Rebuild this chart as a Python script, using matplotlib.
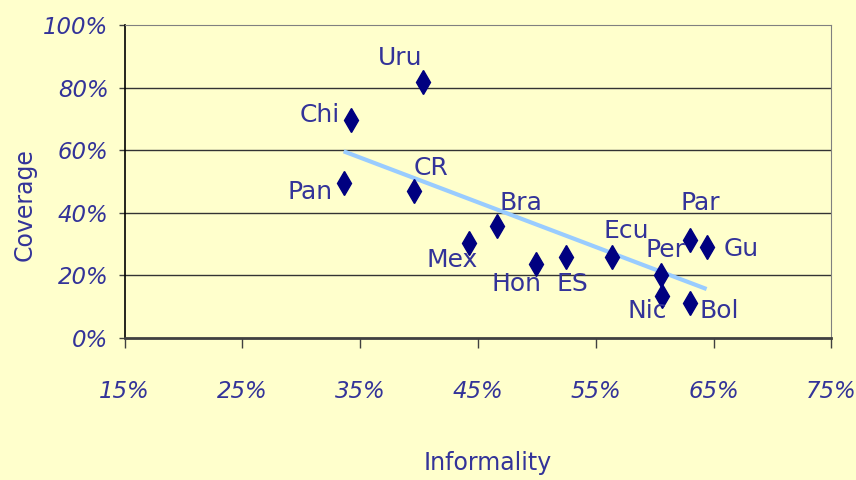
import numpy as np
import matplotlib
matplotlib.use("Agg")
import matplotlib.pyplot as plt

countries = ["Uru", "Chi", "Pan", "CR", "Bra", "Mex", "Hon", "ES", "Ecu", "Per", "Nic", "Par", "Gu", "Bol"]
informality = [40.3, 34.2, 33.6, 39.6, 46.6, 44.2, 49.9, 52.5, 56.4, 60.5, 60.6, 63.0, 64.4, 63.0]
coverage = [81.9, 69.6, 49.4, 47.1, 35.9, 30.3, 23.5, 25.8, 25.8, 20.1, 13.4, 31.3, 29.2, 11.1]
label_offsets = [(-22, 24), (-31, 5), (-34, -9), (17, 23), (24, 23), (-16, -17), (-19, -20),
                 (6, -27), (14, 26), (5, 25), (-15, -15), (10, 37), (35, -2), (29, -8)]
x_ticks = [15, 25, 35, 45, 55, 65, 75]
y_ticks = [0, 20, 40, 60, 80, 100]

BG = "#FFFFCC"
TXT = "#333399"
FONT = "DejaVu Sans Condensed"

fig = plt.figure(figsize=(8.56, 4.80), dpi=100, facecolor=BG)
ax = fig.add_axes([124.5 / 856, 1 - 338 / 480, 707 / 856, 313 / 480], facecolor=BG)

# trend line (OLS fit)
xs = np.array(informality)
ys = np.array(coverage)
m, b = np.polyfit(xs, ys, 1)
tx = np.array([xs.min(), xs.max()])
ax.plot(tx, m * tx + b, color="#99CCFF", lw=3, zorder=3, solid_capstyle="butt")

ax.plot(xs, ys, linestyle="none", marker="d", ms=12, color="#000080", zorder=4)

for name, x, y, (dx, dy) in zip(countries, informality, coverage, label_offsets):
    ax.annotate(name, (x, y), xytext=(dx, dy), textcoords="offset pixels",
                ha="center", va="center", color=TXT, fontsize=18,
                family=FONT, zorder=5)

ax.set_xlim(15, 75)
ax.set_ylim(0, 100)
ax.set_xticks(x_ticks)
ax.set_yticks(y_ticks)
ax.set_xticklabels([f"{v}%" for v in x_ticks], fontsize=16.5, style="italic",
                   color=TXT, family=FONT)
ax.set_yticklabels([f"{v}%" for v in y_ticks], fontsize=16.5, style="italic",
                   color=TXT, family=FONT)
ax.tick_params(axis="x", direction="out", length=7, width=1, color="#404040", pad=23)
ax.tick_params(axis="y", direction="out", length=4.5, width=1, color="#404040", pad=7)

for v in y_ticks[1:-1]:
    ax.axhline(v, color="#333333", lw=1, zorder=1)

ax.spines["top"].set_color("#808080")
ax.spines["right"].set_color("#808080")
ax.spines["left"].set_color("#000000")
ax.spines["bottom"].set_color("#404040")
ax.spines["bottom"].set_linewidth(2)
ax.spines["left"].set_linewidth(1.2)

fig.text(488 / 856, 1 - 463 / 480, "Informality", ha="center", va="center",
         color=TXT, fontsize=17, family=FONT)
fig.text(25 / 856, 1 - 205 / 480, "Coverage", ha="center", va="center", rotation=90,
         color=TXT, fontsize=17, family=FONT)

fig.savefig("out.png", dpi=100, facecolor=BG)
